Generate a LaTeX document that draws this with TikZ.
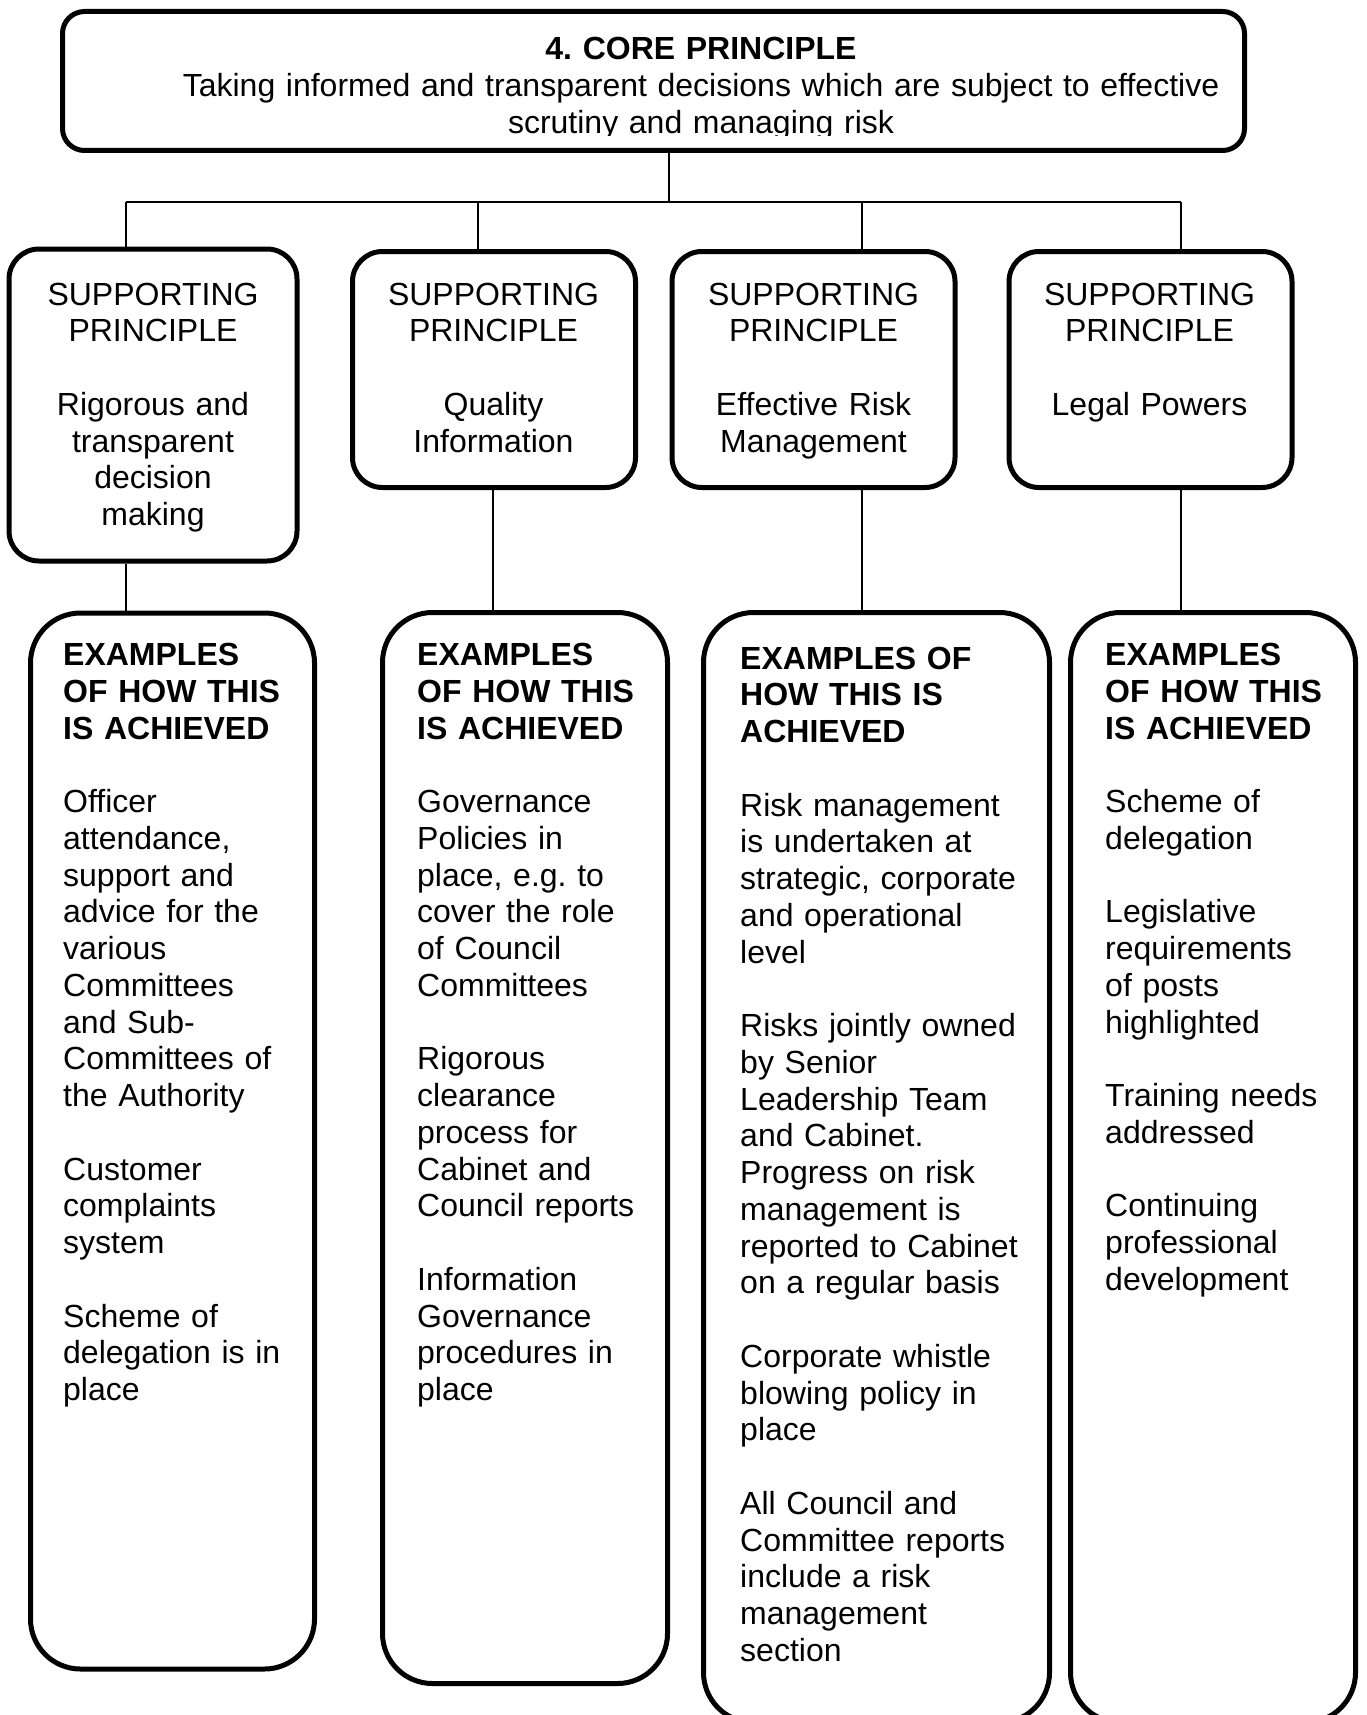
\documentclass[tikz,border=0pt]{standalone}
\usepackage{fontspec}
\setmainfont{Liberation Sans}
\frenchspacing
\begin{document}
\begin{tikzpicture}[x=1pt,y=-1pt,
  box/.style={draw, line width=5pt, rounded corners=#1, inner sep=0pt, fill=white},
  conn/.style={line width=1.6pt},
  bodytxt/.style={font=\fontsize{32}{36.75}\selectfont, inner sep=0pt, text width=330pt, align=left, anchor=base west},
  ctrtxt/.style={font=\fontsize{32}{36.75}\selectfont, inner sep=0pt, text width=280pt, align=center, anchor=base},
  coretxt/.style={font=\fontsize{32}{36.75}\selectfont, inner sep=0pt, text width=1150pt, align=center, anchor=base}]
\useasboundingbox (0,0) rectangle (1367,1715);
\clip (0,0) rectangle (1367,1715);

% core box
\node[box=22pt, minimum width=1182pt, minimum height=139pt] (core) at (653.5,81) {};
\begin{scope}
\clip (60,9) rectangle (1247,136);
\node[coretxt] (coreT) at (701,60) {\textbf{4. CORE PRINCIPLE}\\Taking informed and transparent decisions which are subject to effective\\scrutiny and managing risk};
\end{scope}

% supporting principle boxes
\node[box=30pt, minimum width=288pt, minimum height=312pt] (sp1) at (153,405) {};
\node[box=30pt, minimum width=283pt, minimum height=236pt] (sp2) at (494,369.5) {};
\node[box=30pt, minimum width=283pt, minimum height=236pt] (sp3) at (813.5,369.5) {};
\node[box=30pt, minimum width=283pt, minimum height=236pt] (sp4) at (1150.5,369.5) {};

\node[ctrtxt] (sp1T) at (153,305) {SUPPORTING\\PRINCIPLE\\[36.75pt]Rigorous and\\transparent\\decision\\making};
\node[ctrtxt] (sp2T) at (493.5,305) {SUPPORTING\\PRINCIPLE\\[36.75pt]Quality\\Information};
\node[ctrtxt] (sp3T) at (813.5,305) {SUPPORTING\\PRINCIPLE\\[36.75pt]Effective Risk\\Management};
\node[ctrtxt] (sp4T) at (1149.5,305) {SUPPORTING\\PRINCIPLE\\[36.75pt]Legal Powers};

% examples boxes
\node[box=50pt, minimum width=284pt, minimum height=1056pt] (ex1) at (172.5,1141) {};
\node[box=50pt, minimum width=285pt, minimum height=1071pt] (ex2) at (525,1148) {};
\node[box=50pt, minimum width=346pt, minimum height=1110pt] (ex3) at (876.5,1167.5) {};
\node[box=50pt, minimum width=285pt, minimum height=1110pt] (ex4) at (1213,1167.5) {};

\node[bodytxt] (ex1T) at (63,665.5) {\textbf{EXAMPLES}\\\textbf{OF HOW THIS}\\\textbf{IS ACHIEVED}\\[36.75pt]Officer\\attendance,\\support and\\advice for the\\various\\Committees\\and Sub-\\Committees of\\the Authority\\[36.75pt]Customer\\complaints\\system\\[36.75pt]Scheme of\\delegation is in\\place};
\node[bodytxt] (ex2T) at (417,665.5) {\textbf{EXAMPLES}\\\textbf{OF HOW THIS}\\\textbf{IS ACHIEVED}\\[36.75pt]Governance\\Policies in\\place, e.g. to\\cover the role\\of Council\\Committees\\[36.75pt]Rigorous\\clearance\\process for\\Cabinet and\\Council reports\\[36.75pt]Information\\Governance\\procedures in\\place};
\node[bodytxt] (ex3T) at (740,669) {\textbf{EXAMPLES OF}\\\textbf{HOW THIS IS}\\\textbf{ACHIEVED}\\[36.75pt]Risk management\\is undertaken at\\strategic, corporate\\and operational\\level\\[36.75pt]Risks jointly owned\\by Senior\\Leadership Team\\and Cabinet.\\Progress on risk\\management is\\reported to Cabinet\\on a regular basis\\[36.75pt]Corporate whistle\\blowing policy in\\place\\[36.75pt]All Council and\\Committee reports\\include a risk\\management\\section};
\node[bodytxt] (ex4T) at (1105,665.5) {\textbf{EXAMPLES}\\\textbf{OF HOW THIS}\\\textbf{IS ACHIEVED}\\[36.75pt]Scheme of\\delegation\\[36.75pt]Legislative\\requirements\\of posts\\highlighted\\[36.75pt]Training needs\\addressed\\[36.75pt]Continuing\\professional\\development};

% connectors
\coordinate (jn) at (669,202);
\coordinate (d1) at (126,202);
\coordinate (d2) at (478,202);
\coordinate (d3) at (862,202);
\coordinate (d4) at (1181,202);
\coordinate (l2) at (493,560);
\draw[conn] (core.south -| jn) -- (jn);
\draw[conn] (d1) -- (d4);
\draw[conn] (d1) -- (d1 |- sp1.north);
\draw[conn] (d2) -- (d2 |- sp2.north);
\draw[conn] (d3) -- (d3 |- sp3.north);
\draw[conn] (d4) -- (d4 |- sp4.north);
\draw[conn] (sp1.south -| d1) -- (ex1.north -| d1);
\draw[conn] (sp2.south -| l2) -- (ex2.north -| l2);
\draw[conn] (sp3.south -| d3) -- (ex3.north -| d3);
\draw[conn] (sp4.south -| d4) -- (ex4.north -| d4);
\end{tikzpicture}
\end{document}
